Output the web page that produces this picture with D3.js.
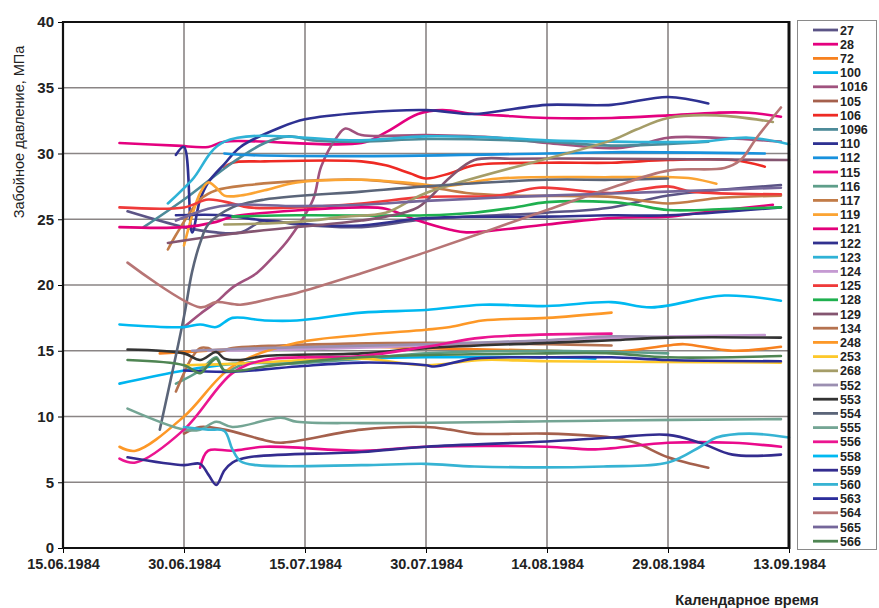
<!DOCTYPE html>
<html>
<head>
<meta charset="utf-8">
<script src="https://cdn.jsdelivr.net/npm/d3@7"></script>
<style>
  body { margin: 0; background: #fff; }
  text { font-family: "Liberation Sans", Arial, sans-serif; }
</style>
</head>
<body>
<svg id="chart" width="879" height="608"></svg>
<script>
// Well numbers (legend order) and their line colours
const wells = ["27","28","72","100","1016","105","106","1096","110","112","115","116","117","119","121","122","123","124","125","128","129","134","248","253","268","552","553","554","555","556","558","559","560","563","564","565","566"];
const colors = ["#5b5486","#e4007f","#f7811f","#00b5ef","#a0527e","#a5604c","#ee2a24","#4d8b99","#2e3192","#1891dd","#ea0a8c","#5e9e8a","#c27c48","#fba433","#e2007a","#31318f","#2fb2d6","#c59ad2","#ef3a3a","#1fb04f","#845570","#b5724f","#fd9827","#fdc82a","#a59d68","#9b8fb1","#333333","#5b6579","#74a594","#eb1590","#00b9f1","#332c8f","#36b3d3","#2b2d9b","#b77575","#74669a","#4f8553"];

// Axis ticks
const xTickLabels = ["15.06.1984","30.06.1984","15.07.1984","30.07.1984","14.08.1984","29.08.1984","13.09.1984"];
const yTicks = [0,5,10,15,20,25,30,35,40];

// Bottom-hole pressure, MPa, by date (dd.mm, 1984)
const s27   = [["23.06",25.6],["30.06",24.4],["04.07",24.0],["07.07",24.0],["10.07",24.9],["14.07",24.6],["22.07",24.4],["30.07",25.0],["14.08",25.5],["22.08",25.9],["29.08",26.8],["12.09",27.6]];
const s28   = [["22.06",30.8],["29.06",30.6],["03.07",30.5],["05.07",30.9],["22.07",30.8],["25.07",31.6],["29.07",33.0],["01.08",33.3],["05.08",33.0],["08.08",32.9],["14.08",32.7],["22.08",32.7],["29.08",32.9],["04.09",33.1],["08.09",33.1],["12.09",32.8]];
const s72   = [["27.06",14.8],["30.06",14.9],["12.07",15.3],["22.07",15.3],["30.07",15.2],["14.08",15.0],["22.08",14.9],["29.08",15.4],["31.08",15.5],["06.09",15.0],["12.09",15.3]];
const s100  = [["22.06",12.5],["30.06",13.5],["06.07",14.0],["12.07",14.1],["22.07",14.4],["30.07",14.5],["14.08",14.5],["20.08",14.4]];
const s1016 = [["30.06",16.8],["02.07",17.8],["04.07",18.7],["06.07",19.8],["09.07",20.9],["11.07",22.1],["13.07",23.5],["16.07",26.5],["17.07",29.0],["19.07",31.3],["20.07",31.9],["22.07",31.4],["30.07",31.4],["08.08",31.2],["14.08",30.8],["22.08",30.4],["25.08",30.6],["29.08",31.2],["04.09",31.2],["12.09",30.9]];
const s105  = [["30.06",8.7],["02.07",9.2],["05.07",9.0],["10.07",8.2],["12.07",8.0],["22.07",9.0],["30.07",9.2],["02.08",9.0],["05.08",8.7],["14.08",8.7],["22.08",8.4],["25.08",8.0],["29.08",6.9],["03.09",6.1]];
const s106  = [["05.07",28.9],["06.07",29.3],["10.07",29.4],["22.07",29.4],["25.07",29.1],["28.07",28.5],["30.07",28.1],["02.08",28.5],["05.08",29.1],["14.08",29.3],["22.08",29.3],["29.08",29.5],["06.09",29.5],["10.09",29.0]];
const s1096 = [["25.06",24.4],["30.06",26.5],["06.07",29.3],["10.07",30.8],["13.07",31.3],["16.07",31.0],["22.07",30.9],["30.07",31.1],["14.08",30.9],["22.08",30.6],["03.09",30.9]];
const s110  = [["29.06",29.9],["30.06",30.5],["01.07",24.0],["02.07",26.5],["03.07",27.8],["05.07",29.2],["07.07",30.5],["12.07",32.0],["15.07",32.6],["22.07",33.1],["30.07",33.3],["05.08",33.0],["10.08",33.4],["14.08",33.7],["22.08",33.7],["29.08",34.3],["03.09",33.8]];
const s112  = [["05.07",30.0],["07.07",29.9],["22.07",29.8],["14.08",30.0],["22.08",30.1],["10.09",30.0]];
const s115  = [["02.07",6.1],["03.07",7.4],["06.07",7.4],["10.07",7.7],["22.07",7.4],["30.07",7.7],["14.08",7.7],["20.08",7.5],["29.08",8.0],["06.09",8.0],["12.09",7.7]];
const s116  = [["29.06",12.5],["02.07",13.5],["04.07",14.5],["05.07",13.5],["08.07",14.1],["12.07",14.0],["22.07",14.4],["30.07",14.8],["14.08",15.0],["29.08",14.8]];
const s117  = [["28.06",22.7],["29.06",23.8],["02.07",26.5],["04.07",27.2],["08.07",27.6],["14.07",27.9],["22.07",28.0],["30.07",27.5],["04.08",27.0],["10.08",26.8],["22.08",26.7],["29.08",26.2],["04.09",26.6],["12.09",26.8]];
const s119  = [["30.06",23.0],["02.07",27.0],["03.07",27.8],["04.07",27.4],["05.07",26.8],["07.07",26.8],["10.07",27.2],["14.07",27.8],["22.07",28.0],["29.07",27.7],["01.08",27.5],["08.08",28.1],["22.08",28.2],["29.08",28.2],["01.09",28.1],["04.09",27.7]];
const s121  = [["22.06",24.4],["30.06",24.4],["04.07",24.8],["06.07",25.2],["22.07",25.9],["25.07",25.8],["29.07",24.9],["02.08",24.2],["04.08",24.0],["14.08",24.6],["22.08",25.1],["29.08",25.2],["02.09",25.5],["11.09",26.1]];
const s122  = [["29.06",25.3],["05.07",25.3],["10.07",24.9],["21.07",24.5],["30.07",25.1],["14.08",25.2],["22.08",25.3],["29.08",25.3],["12.09",25.9]];
const s123  = [["28.06",26.2],["01.07",28.0],["05.07",30.9],["22.07",31.0],["30.07",31.3],["08.08",31.2],["14.08",31.0],["22.08",30.9],["02.09",30.9],["08.09",31.2],["13.09",30.7]];
const s124  = [["03.07",15.0],["14.07",15.1],["30.07",15.4],["14.08",15.8],["22.08",16.0],["10.09",16.2]];
const s125  = [["22.06",25.9],["30.06",25.9],["03.07",26.5],["06.07",26.2],["08.07",25.9],["14.07",25.9],["22.07",26.2],["30.07",26.7],["08.08",26.8],["13.08",27.4],["22.08",27.0],["29.08",27.5],["01.09",27.1],["12.09",26.9]];
const s128  = [["06.07",25.2],["14.07",25.3],["30.07",25.3],["05.08",25.5],["10.08",25.9],["14.08",26.3],["22.08",26.3],["25.08",26.1],["29.08",25.7],["06.09",25.8],["12.09",25.9]];
const s129  = [["28.06",23.2],["06.07",23.9],["22.07",24.9],["25.07",25.2],["29.07",25.9],["02.08",28.2],["05.08",29.5],["10.08",29.6],["22.08",29.6],["13.09",29.5]];
const s134  = [["29.06",11.9],["30.06",13.3],["01.07",14.5],["02.07",15.2],["03.07",15.2],["04.07",14.9],["06.07",15.2],["12.07",15.4],["30.07",15.6],["14.08",15.5],["22.08",15.4]];
const s248  = [["22.06",7.7],["24.06",7.4],["30.06",10.0],["06.07",13.8],["14.07",15.6],["22.07",16.2],["30.07",16.6],["02.08",16.8],["06.08",17.3],["14.08",17.5],["22.08",17.9]];
const s253  = [["30.06",13.9],["06.07",14.0],["22.07",14.4],["30.07",13.9],["06.08",14.3],["14.08",14.2],["12.09",14.1]];
const s268  = [["05.07",24.6],["14.07",24.8],["20.07",25.2],["25.07",25.5],["30.07",27.0],["22.08",31.0],["25.08",31.8],["29.08",32.7],["04.09",32.9],["11.09",32.4]];
const s552  = [["01.07",15.0],["10.07",15.2],["30.07",15.5],["14.08",15.8],["22.08",16.1],["29.08",16.0]];
const s553  = [["23.06",15.1],["30.06",14.8],["02.07",14.3],["04.07",14.9],["05.07",14.4],["07.07",14.3],["10.07",14.6],["22.07",14.8],["30.07",15.2],["14.08",15.6],["22.08",15.8],["29.08",16.0],["12.09",16.0]];
const s554  = [["27.06",9.0],["30.06",17.6],["01.07",21.0],["02.07",23.2],["03.07",24.6],["06.07",25.9],["10.07",26.5],["22.07",27.1],["30.07",27.5],["14.08",28.0],["22.08",28.0],["29.08",28.1]];
const s555  = [["23.06",10.6],["30.06",9.0],["02.07",9.0],["04.07",9.6],["06.07",9.2],["12.07",9.9],["14.07",9.6],["22.07",9.5],["22.08",9.7],["12.09",9.8]];
const s556  = [["22.06",6.8],["24.06",6.5],["30.06",9.0],["06.07",13.3],["10.07",14.3],["22.07",14.6],["30.07",15.3],["06.08",16.0],["22.08",16.3]];
const s558  = [["22.06",17.0],["30.06",16.8],["02.07",17.0],["04.07",16.8],["06.07",17.5],["10.07",17.3],["14.07",17.3],["22.07",17.9],["30.07",18.1],["06.08",18.5],["14.08",18.4],["22.08",18.7],["27.08",18.3],["05.09",19.2],["12.09",18.8]];
const s559  = [["23.06",6.9],["30.06",6.3],["02.07",6.4],["03.07",5.6],["04.07",4.8],["05.07",5.9],["06.07",6.5],["08.07",6.9],["22.07",7.3],["30.07",7.7],["14.08",8.1],["22.08",8.4],["29.08",8.6],["02.09",8.0],["06.09",7.1],["12.09",7.1]];
const s560  = [["30.06",9.2],["03.07",9.0],["05.07",8.9],["06.07",7.5],["07.07",6.6],["09.07",6.3],["22.07",6.3],["30.07",6.4],["05.08",6.2],["21.08",6.2],["29.08",6.5],["02.09",7.7],["04.09",8.4],["08.09",8.7],["13.09",8.4]];
const s563  = [["30.06",13.5],["06.07",13.4],["14.07",13.8],["22.07",14.1],["30.07",13.9],["31.07",13.8],["05.08",14.4],["14.08",14.5],["22.08",14.5],["29.08",14.3],["12.09",14.2]];
const s564  = [["23.06",21.7],["02.07",18.3],["04.07",18.7],["07.07",18.5],["11.07",19.0],["14.07",19.4],["22.07",20.9],["30.07",22.5],["14.08",25.7],["22.08",27.4],["29.08",28.7],["05.09",28.9],["07.09",29.5],["09.09",31.2],["12.09",33.5]];
const s565  = [["29.06",24.9],["03.07",25.8],["06.07",26.1],["14.07",26.0],["22.07",26.1],["30.07",26.4],["14.08",26.8],["29.08",27.1],["12.09",27.4]];
const s566  = [["23.06",14.3],["30.06",13.9],["02.07",13.3],["03.07",13.9],["04.07",14.4],["05.07",13.5],["07.07",13.5],["10.07",13.8],["22.07",14.5],["14.08",14.8],["22.08",14.8],["29.08",14.5],["12.09",14.6]];

const seriesData = [s27,s28,s72,s100,s1016,s105,s106,s1096,s110,s112,s115,s116,s117,s119,s121,s122,s123,s124,s125,s128,s129,s134,s248,s253,s268,s552,s553,s554,s555,s556,s558,s559,s560,s563,s564,s565,s566];

const parseFull = d3.utcParse("%d.%m.%Y");
const parseDay = s => parseFull(s + ".1984");

const svg = d3.select("#chart");
const plot = { left: 63, right: 789, top: 22, bottom: 548 };

const x = d3.scaleUtc()
  .domain([parseFull(xTickLabels[0]), parseFull(xTickLabels[xTickLabels.length - 1])])
  .range([plot.left, plot.right]);
const y = d3.scaleLinear().domain([0, 40]).range([plot.bottom, plot.top]);

// Grid
const grid = svg.append("g");
grid.selectAll("line.h").data(yTicks).join("line")
  .attr("x1", plot.left).attr("x2", plot.right)
  .attr("y1", d => y(d)).attr("y2", d => y(d))
  .attr("stroke", "#8a8585").attr("stroke-width", 1.6);
grid.selectAll("line.v").data(xTickLabels).join("line")
  .attr("x1", d => x(parseFull(d))).attr("x2", d => x(parseFull(d)))
  .attr("y1", plot.top).attr("y2", plot.bottom)
  .attr("stroke", "#8a8585").attr("stroke-width", 1.6);

// Axes
const yAxis = d3.axisLeft(y).tickValues(yTicks).tickSize(5).tickPadding(4);
const gy = svg.append("g").attr("transform", `translate(${plot.left},0)`).call(yAxis);
gy.select(".domain").remove();
gy.selectAll("text").attr("font-size", 15).attr("font-weight", "bold").attr("fill", "#222");

const xAxis = d3.axisBottom(x)
  .tickValues(xTickLabels.map(parseFull))
  .tickFormat(d3.utcFormat("%d.%m.%Y"))
  .tickSize(5).tickPadding(6);
const gx = svg.append("g").attr("transform", `translate(0,${plot.bottom})`).call(xAxis);
gx.select(".domain").remove();
gx.selectAll("text").attr("font-size", 14.5).attr("font-weight", "bold").attr("fill", "#222");

// Series lines (later wells drawn on top)
const line = d3.line()
  .x(d => x(parseDay(d[0])))
  .y(d => y(d[1]))
  .curve(d3.curveCatmullRom.alpha(0.5));

svg.append("g").selectAll("path").data(seriesData).join("path")
  .attr("d", d => line(d))
  .attr("fill", "none")
  .attr("stroke", (d, i) => colors[i])
  .attr("stroke-width", 2.6)
  .attr("stroke-linejoin", "round")
  .attr("stroke-linecap", "round");

// Plot frame
svg.append("line").attr("x1", plot.left).attr("x2", plot.left).attr("y1", plot.top - 1).attr("y2", plot.bottom + 1)
  .attr("stroke", "#111").attr("stroke-width", 2.2);
svg.append("line").attr("x1", plot.left).attr("x2", plot.right).attr("y1", plot.bottom).attr("y2", plot.bottom)
  .attr("stroke", "#111").attr("stroke-width", 2.2);
svg.append("line").attr("x1", plot.left).attr("x2", plot.right).attr("y1", plot.top).attr("y2", plot.top)
  .attr("stroke", "#111").attr("stroke-width", 2);
svg.append("line").attr("x1", plot.right).attr("x2", plot.right).attr("y1", plot.top - 1).attr("y2", plot.bottom + 1)
  .attr("stroke", "#111").attr("stroke-width", 3);

// Axis titles
svg.append("text")
  .attr("transform", "translate(24,132) rotate(-90)")
  .attr("text-anchor", "middle")
  .attr("font-size", 14.5)
  .attr("fill", "#222")
  .text("Забойное давление, МПа");

svg.append("text")
  .attr("x", 747).attr("y", 605)
  .attr("text-anchor", "middle")
  .attr("font-size", 14.5)
  .attr("font-weight", "bold")
  .attr("fill", "#222")
  .text("Календарное время");

// Legend
const legend = svg.append("g");
legend.append("rect")
  .attr("x", 797.5).attr("y", 20.5).attr("width", 79).attr("height", 529)
  .attr("fill", "#fff").attr("stroke", "#8a8a8a").attr("stroke-width", 1);
const item = legend.selectAll("g.item").data(wells).join("g")
  .attr("transform", (d, i) => `translate(0,${30 + i * 14.2})`);
item.append("line")
  .attr("x1", 813).attr("x2", 838).attr("y1", 0).attr("y2", 0)
  .attr("stroke", (d, i) => colors[i]).attr("stroke-width", 2.8);
item.append("text")
  .attr("x", 840).attr("y", 4.5)
  .attr("font-family", "'Liberation Sans Narrow', 'DejaVu Sans Condensed', sans-serif")
  .attr("font-size", 12.5)
  .attr("font-weight", "bold")
  .attr("fill", "#222")
  .text(d => d);
</script>
</body>
</html>
